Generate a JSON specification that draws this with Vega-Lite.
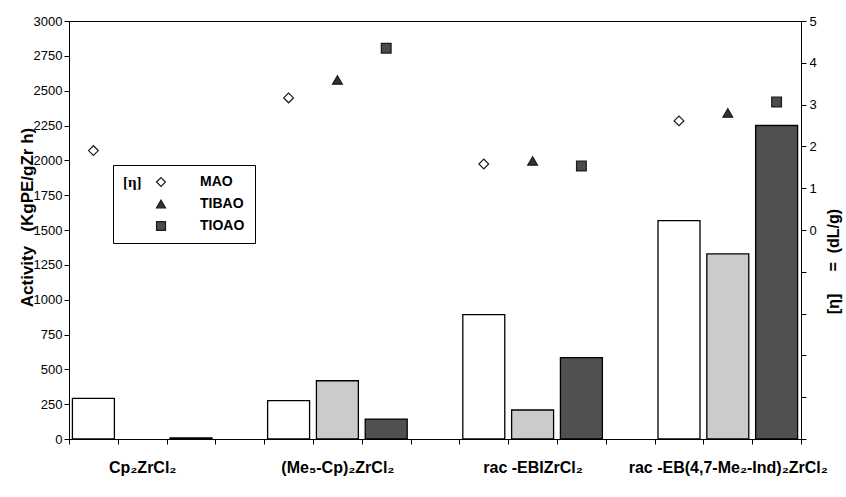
{
  "$schema": "https://vega.github.io/schema/vega-lite/v6.json",
  "width": 732,
  "height": 418,
  "autosize": "none",
  "padding": {"left": 69, "top": 21, "right": 45, "bottom": 58},
  "background": "white",
  "config": {
    "font": "Liberation Sans",
    "view": {"stroke": "black", "strokeWidth": 1},
    "axis": {"grid": false, "domainColor": "black", "tickColor": "black", "labelColor": "black", "titleColor": "black", "labelFontSize": 13, "titleFontSize": 16, "titleFontWeight": "bold", "tickSize": 5},
    "legend": {
      "orient": "none", "legendX": 44, "legendY": 144, "titleOrient": "left", "titleAnchor": "start",
      "strokeColor": "black", "fillColor": "white", "padding": 10, "rowPadding": 8,
      "labelFontSize": 14, "labelFontWeight": "bold", "labelColor": "black", "labelOffset": 32,
      "titleFont": "Liberation Serif", "titleFontSize": 15, "titleFontWeight": "bold", "titleColor": "black", "titlePadding": 12,
      "symbolStrokeWidth": 1.2, "symbolSize": 80
    }
  },
  "data": {
    "values": [
      {"catalyst": "Cp2ZrCl2", "cocatalyst": "MAO", "bar": "1 MAO", "activity": 292, "eta": 1.9},
      {"catalyst": "Cp2ZrCl2", "cocatalyst": "TIBAO", "bar": "1 TIBAO", "activity": null, "eta": null},
      {"catalyst": "Cp2ZrCl2", "cocatalyst": "TIOAO", "bar": "1 TIOAO", "activity": 8, "eta": null},
      {"catalyst": "(Me5-Cp)2ZrCl2", "cocatalyst": "MAO", "bar": "2 MAO", "activity": 275, "eta": 3.16},
      {"catalyst": "(Me5-Cp)2ZrCl2", "cocatalyst": "TIBAO", "bar": "2 TIBAO", "activity": 418, "eta": 3.59},
      {"catalyst": "(Me5-Cp)2ZrCl2", "cocatalyst": "TIOAO", "bar": "2 TIOAO", "activity": 143, "eta": 4.35},
      {"catalyst": "rac-EBIZrCl2", "cocatalyst": "MAO", "bar": "3 MAO", "activity": 892, "eta": 1.58},
      {"catalyst": "rac-EBIZrCl2", "cocatalyst": "TIBAO", "bar": "3 TIBAO", "activity": 208, "eta": 1.65},
      {"catalyst": "rac-EBIZrCl2", "cocatalyst": "TIOAO", "bar": "3 TIOAO", "activity": 584, "eta": 1.53},
      {"catalyst": "rac-EB(4,7-Me2-Ind)2ZrCl2", "cocatalyst": "MAO", "bar": "4 MAO", "activity": 1567, "eta": 2.61},
      {"catalyst": "rac-EB(4,7-Me2-Ind)2ZrCl2", "cocatalyst": "TIBAO", "bar": "4 TIBAO", "activity": 1328, "eta": 2.8},
      {"catalyst": "rac-EB(4,7-Me2-Ind)2ZrCl2", "cocatalyst": "TIOAO", "bar": "4 TIOAO", "activity": 2250, "eta": 3.06}
    ]
  },
  "layer": [
    {
      "mark": {"type": "bar", "stroke": "black", "strokeWidth": 1.3, "width": {"band": 0.86}},
      "encoding": {
        "x": {
          "field": "bar", "type": "nominal",
          "scale": {"domain": ["1 MAO", "1 TIBAO", "1 TIOAO", "gap1", "2 MAO", "2 TIBAO", "2 TIOAO", "gap2", "3 MAO", "3 TIBAO", "3 TIOAO", "gap3", "4 MAO", "4 TIBAO", "4 TIOAO"], "paddingInner": 0, "paddingOuter": 0},
          "axis": {
            "title": null, "labelAngle": 0, "labelFontWeight": "bold", "labelFontSize": 16,
            "tickBand": "extent", "labelPadding": 15, "labelOverlap": false, "labelLimit": 400, "labelBaseline": "top",
            "labelExpr": "datum.value == '1 TIBAO' ? 'Cp₂ZrCl₂' : datum.value == '2 TIBAO' ? '(Me₅-Cp)₂ZrCl₂' : datum.value == '3 TIBAO' ? 'rac -EBIZrCl₂' : datum.value == '4 TIBAO' ? 'rac -EB(4,7-Me₂-Ind)₂ZrCl₂' : ''"
          }
        },
        "y": {
          "field": "activity", "type": "quantitative",
          "scale": {"domain": [0, 3000]},
          "axis": {"values": [0, 250, 500, 750, 1000, 1250, 1500, 1750, 2000, 2250, 2500, 2750, 3000], "format": "d", "title": "Activity\u00a0\u00a0\u00a0(KgPE/gZr h)", "titleFontSize": 17, "labelPadding": 2, "titleY": 196, "titleX": -42, "titleAlign": "center", "titleBaseline": "middle"}
        },
        "color": {
          "field": "cocatalyst", "type": "nominal",
          "scale": {"domain": ["TIOAO", "TIBAO", "MAO"], "range": ["#505050", "#cbcbcb", "#ffffff"]},
          "legend": null
        }
      }
    },
    {
      "mark": {"type": "point", "filled": true, "strokeWidth": 1.2, "size": 95, "opacity": 1},
      "encoding": {
        "x": {"field": "bar", "type": "nominal"},
        "y": {
          "field": "eta", "type": "quantitative",
          "scale": {"domain": [-5, 5]},
          "axis": {"orient": "right", "values": [-5, -4, -3, -2, -1, 0, 1, 2, 3, 4, 5], "labelExpr": "datum.value >= 0 ? datum.label : ''", "title": "[η]\u00a0\u00a0\u00a0\u00a0\u00a0=\u00a0\u00a0(dL/g)", "titleFontSize": 16, "titleAngle": 270, "titleX": 32, "titleY": 240, "titleAlign": "center", "titleBaseline": "middle", "labelPadding": 3}
        },
        "shape": {
          "field": "cocatalyst", "type": "nominal",
          "scale": {"domain": ["MAO", "TIBAO", "TIOAO"], "range": ["diamond", "triangle-up", "square"]},
          "legend": {"title": "[η]", "labelExpr": "datum.label + '\u00a0\u00a0\u00a0\u00a0\u00a0\u00a0'"}
        },
        "fill": {
          "field": "cocatalyst", "type": "nominal",
          "scale": {"domain": ["MAO", "TIBAO", "TIOAO"], "range": ["#ffffff", "#333333", "#4a4a4a"]},
          "legend": {"title": "[η]", "labelExpr": "datum.label + '\u00a0\u00a0\u00a0\u00a0\u00a0\u00a0'"}
        },
        "stroke": {
          "field": "cocatalyst", "type": "nominal",
          "scale": {"domain": ["MAO", "TIBAO", "TIOAO"], "range": ["#1a1a1a", "#1a1a1a", "#1a1a1a"]},
          "legend": {"title": "[η]", "labelExpr": "datum.label + '\u00a0\u00a0\u00a0\u00a0\u00a0\u00a0'"}
        }
      }
    }
  ],
  "resolve": {"scale": {"y": "independent"}}
}
